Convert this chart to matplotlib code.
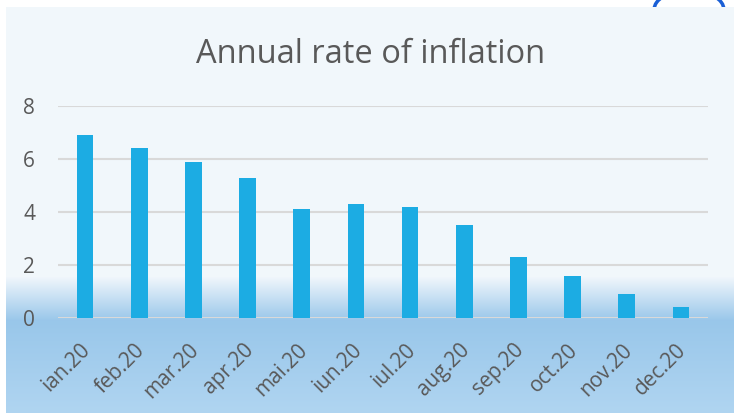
import numpy as np
import matplotlib.pyplot as plt
from matplotlib.patches import Arc
from matplotlib.transforms import ScaledTranslation

months = ['ian.20', 'feb.20', 'mar.20', 'apr.20', 'mai.20', 'iun.20',
          'iul.20', 'aug.20', 'sep.20', 'oct.20', 'nov.20', 'dec.20']
inflation = [6.9, 6.4, 5.9, 5.3, 4.1, 4.3, 4.2, 3.5, 2.3, 1.6, 0.9, 0.4]
yticks = [0, 2, 4, 6, 8]

W, H = 734, 413
fig = plt.figure(figsize=(W / 100, H / 100), dpi=100)
fig.patch.set_facecolor('white')

# partial blue outline peeking out above the panel (top right)
arc = Arc((689 / W, 1 - 10 / H), 70 / W, 40 / H, transform=fig.transFigure,
          color='#1a5fd6', linewidth=2.5, zorder=-1)
fig.add_artist(arc)

# panel background with the blue fade at the bottom
bg = fig.add_axes([6 / W, 0, (W - 6) / W, (H - 7) / H])
bg.set_axis_off()
rows = H - 7
top = np.array([0.949, 0.969, 0.988])
mid = np.array([0.600, 0.780, 0.918])
bot = np.array([0.690, 0.835, 0.945])
grad = np.zeros((rows, 1, 3))
for i in range(rows):
    py = i + 7
    if py < 276:
        c = top
    elif py < 320:
        t = (py - 276) / 44
        c = top + (mid - top) * t
    else:
        t = (py - 320) / (H - 320)
        c = mid + (bot - mid) * t
    grad[i, 0] = c
bg.imshow(grad, aspect='auto', extent=[0, 1, 0, 1])

ax = fig.add_axes([58 / W, (H - 318) / H, 650 / W, 212 / H])
ax.patch.set_alpha(0)
x = np.arange(len(months))
ax.bar(x, inflation, width=0.31, color='#1cace3', zorder=3)
ax.set_xlim(-0.5, len(months) - 0.5)
ax.set_ylim(0, 8)
ax.set_yticks(yticks)
ax.set_yticklabels([str(v) for v in yticks], fontsize=15, color='#595959',
                   family='Open Sans')
ax.set_xticks(x)
ax.set_xticklabels(months, rotation=45, ha='right', rotation_mode='anchor',
                   fontsize=15, color='#595959', family='Open Sans')
ax.tick_params(axis='both', length=0)
ax.tick_params(axis='y', pad=16.5)
ax.tick_params(axis='x', pad=14)
shift = ScaledTranslation(-0.05, -0.02, fig.dpi_scale_trans)
for lbl in ax.get_xticklabels():
    lbl.set_transform(lbl.get_transform() + shift)
ax.grid(axis='y', color='#d9d9d9', linewidth=1.5, zorder=0)
for s in ax.spines.values():
    s.set_visible(False)

fig.text(371 / W, 1 - 63 / H, 'Annual rate of inflation', ha='center',
         va='baseline', fontsize=23.5, color='#595959', family='Open Sans')

fig.savefig('out.png', dpi=100)
